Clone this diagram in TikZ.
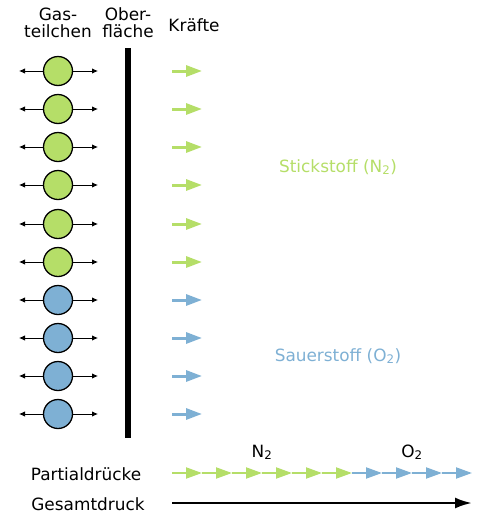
\documentclass[tikz,border=0pt]{standalone}
\usepackage{fontspec}
\setmainfont{DejaVu Sans}
\usetikzlibrary{arrows.meta}
\definecolor{stick}{RGB}{181,222,104}
\definecolor{sauer}{RGB}{126,176,212}
\tikzstyle{schrift} = [font=\fontsize{16.9}{16.5}\selectfont,inner sep=0pt]
\tikzstyle{titel} = [schrift,align=center,anchor=base]
\tikzstyle{teilchen} = [circle,draw=black,line width=1.3pt,minimum size=29pt,inner sep=0pt]
\tikzstyle{stoss} = [line width=0.9pt,-{Latex[length=6pt,width=5.5pt]}]
\tikzstyle{kraft} = [line width=3pt,-{Triangle[length=16pt,width=11pt]}]
\tikzstyle{teil} = [line width=2pt,-{Triangle[length=16pt,width=11pt]}]
\tikzstyle{wand} = [line width=6pt]

\begin{document}
\begin{tikzpicture}[x=1pt,y=-1pt]
	\useasboundingbox (0,0) rectangle (500,520);
	% Kopfzeile
	\node[titel] (gas) at (58,37) {Gas-\\teilchen};
	\node[titel] (ober) at (128,37) {Ober-\\fläche};
	\node[titel] (kraefte) at (194,31) {Kräfte};
	% Oberflaeche
	\coordinate (wandoben) at (128,48);
	\coordinate (wandunten) at (128,438);
	\draw[wand] (wandoben) -- (wandunten);
	% Teilchen mit Stoessen und Kraeften
	\foreach \Yc/\Farbe [count=\Nr] in 
	{71/stick,109/stick,147/stick,185/stick,224/stick,262/stick,
	 300/sauer,338/sauer,376/sauer,414/sauer}
	{
		\node[teilchen,fill=\Farbe] (t\Nr) at (58,\Yc) {};
		\coordinate (l\Nr) at (19,\Yc);
		\coordinate (r\Nr) at (98,\Yc);
		\draw[stoss] (t\Nr.west) -- (l\Nr);
		\draw[stoss] (t\Nr.east) -- (r\Nr);
		\coordinate (ka\Nr) at (172,\Yc);
		\coordinate (ke\Nr) at (202,\Yc);
		\draw[kraft,\Farbe] (ka\Nr) -- (ke\Nr);
	}
	\node[schrift,anchor=base,text=stick] (stickstoff) at (338,172) {Stickstoff (N\textsubscript{2})};
	\node[schrift,anchor=base,text=sauer] (sauerstoff) at (338,361) {Sauerstoff (O\textsubscript{2})};
	% Partialdruecke
	\node[schrift,anchor=base] (partial) at (86,480) {Partialdrücke};
	\coordinate (p0) at (172,473);
	\foreach \Xc/\Farbe [count=\Nr] in 
	{202/stick,232/stick,262/stick,292/stick,322/stick,352/stick,
	 382/sauer,412/sauer,442/sauer,472/sauer}
	{
		\pgfmathtruncatemacro\Vor{\Nr-1}
		\coordinate (p\Nr) at (\Xc,473);
		\draw[teil,\Farbe] (p\Vor) -- (p\Nr);
	}
	\node[schrift,anchor=base] (nzwei) at (262,457) {N\textsubscript{2}};
	\node[schrift,anchor=base] (ozwei) at (412,457) {O\textsubscript{2}};
	% Gesamtdruck
	\node[schrift,anchor=base] (gesamt) at (88,510) {Gesamtdruck};
	\coordinate (ga) at (172,503);
	\coordinate (ge) at (472,503);
	\draw[line width=2.5pt,-{Latex[length=17pt,width=11pt]}] (ga) -- (ge);
\end{tikzpicture}
\end{document}
